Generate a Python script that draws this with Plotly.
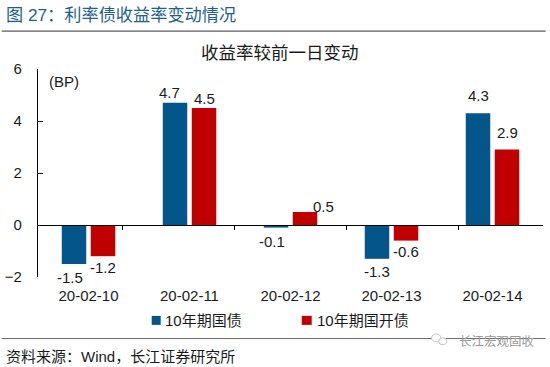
import plotly.graph_objects as go

categories = ["20-02-10", "20-02-11", "20-02-12", "20-02-13", "20-02-14"]
guozhai = [-1.5, 4.7, -0.1, -1.3, 4.3]
guokai = [-1.2, 4.5, 0.5, -0.6, 2.9]
y_ticks = [-2, 0, 2, 4, 6]
series_names = ["10年期国债", "10年期国开债"]
series_colors = ["#04558a", "#c00000"]

F = "Liberation Sans, Noto Sans CJK SC, sans-serif"
INK = "#1a1a1a"
W, H = 550, 367
L, R, T, B = 38.3, 543.3, 68.5, 277

# label nudges (px) relative to each bar end, per series
label_dx = [[-4, -6, -4, 0, 0], [0, 0, 18, 0, 0]]
label_dy = [[-13, 10.7, -14.2, -13, 17.8], [-10.8, 9.3, 5.2, -11.2, 17]]
group_dx = [-14.5, 14.5]


def px(x):
    return (x - L) / (R - L)


def py(y):
    return (B - y) / (B - T)


def text(x, y, s, size, color=INK, anchor="left"):
    return dict(x=px(x), y=py(y), xref="paper", yref="paper", text=s, showarrow=False,
                xanchor=anchor, yanchor="middle", font=dict(size=size, color=color, family=F))


def line(x0, y0, x1, y1, color, width):
    return dict(type="line", xref="paper", yref="paper", x0=px(x0), x1=px(x1),
                y0=py(y0), y1=py(y1), line=dict(color=color, width=width))


def box(x0, y0, x1, y1, color):
    return dict(type="rect", xref="paper", yref="paper", x0=px(x0), x1=px(x1),
                y0=py(y0), y1=py(y1), line=dict(width=0), fillcolor=color)


def ring(x0, y0, x1, y1):
    return dict(type="circle", xref="paper", yref="paper", x0=px(x0), x1=px(x1),
                y0=py(y0), y1=py(y1), line=dict(width=1, color="#c4c4c4"), fillcolor="white")


fig = go.Figure()
annotations = []
for i, (name, vals, col) in enumerate(zip(series_names, [guozhai, guokai], series_colors)):
    fig.add_bar(x=categories, y=vals, name=name, showlegend=False,
                marker=dict(color=col, line=dict(width=0)))
    for j, (cat, v) in enumerate(zip(categories, vals)):
        annotations.append(dict(
            x=cat, y=v, xref="x", yref="y", text=f"{v:.1f}", showarrow=False,
            xanchor="center", yanchor="middle",
            xshift=group_dx[i] + label_dx[i][j], yshift=label_dy[i][j],
            font=dict(size=15, color=INK, family=F)))

# zero-level axis with tick marks between categories
fig.add_scatter(x=categories, y=[None] * len(categories), xaxis="x2", yaxis="y",
                showlegend=False, hoverinfo="skip", mode="markers")

annotations += [
    text(4, 14.5, "图 27：利率债收益率变动情况", 17.2, "#1f5f8b"),
    text(280.5, 52, "收益率较前一日变动", 17.5, INK, "center"),
    text(47, 81, "(BP)", 15),
    text(4, 357, "资料来源：Wind，长江证券研究所", 15),
    text(163, 321, series_names[0], 15),
    text(315, 321, series_names[1], 15),
    text(457, 342, "长江宏观固收", 12.5, "#9a9a9a"),
]

fig.update_layout(
    width=W, height=H, autosize=False, paper_bgcolor="white", plot_bgcolor="white",
    margin=dict(l=L, r=W - R, t=T, b=H - B, pad=0), barmode="group", bargap=0.426, bargroupgap=0.155,
    showlegend=False, font=dict(family=F, color=INK),
    xaxis=dict(type="category", categoryorder="array", categoryarray=categories,
               showline=False, showgrid=False, zeroline=False, ticks="", ticklabelstandoff=8,
               tickfont=dict(size=15, family=F, color=INK), automargin=False),
    xaxis2=dict(type="category", categoryorder="array", categoryarray=categories, overlaying="x",
                anchor="free", position=2 / 8, side="bottom", showline=True, linecolor="#000000",
                linewidth=1.3, ticks="outside", ticklen=4, tickwidth=1.3, tickcolor="#000000",
                tickson="boundaries", showticklabels=False, showgrid=False, zeroline=False),
    yaxis=dict(range=[-2, 6], tickvals=y_ticks, showgrid=False, zeroline=False,
               showline=True, linecolor="#000000", linewidth=1.3, ticks="inside", ticklen=5,
               tickwidth=1.3, tickcolor="#000000", ticklabelstandoff=12,
               tickfont=dict(size=15, family=F, color=INK), automargin=False),
    annotations=annotations,
    shapes=[
        line(2, 30.5, 546, 30.5, "#333333", 1),
        line(2, 338.7, 546, 338.7, "#666666", 1),
        box(152, 316, 161, 325, series_colors[0]),
        box(302, 316, 312, 325, series_colors[1]),
        ring(432, 334, 441, 342),
        ring(439, 338, 447, 345),
    ],
)
fig.write_html("out.html", post_script="document.body.style.margin='0';",
               config={"displayModeBar": False})
